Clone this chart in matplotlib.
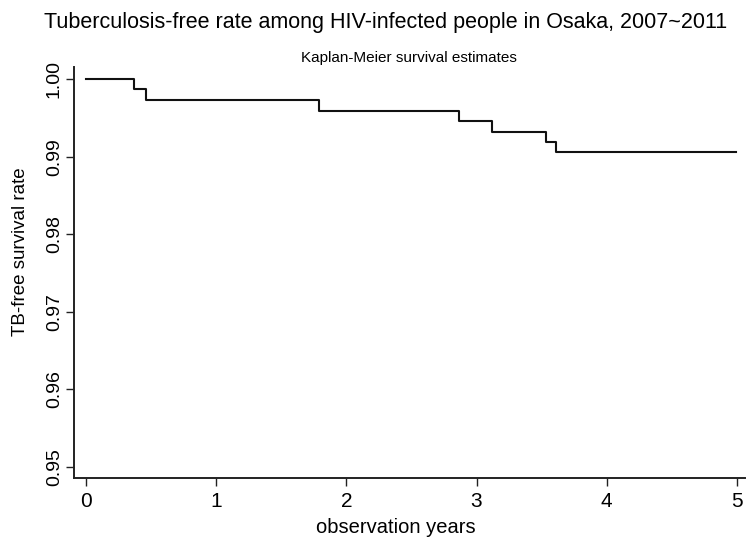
#!/usr/bin/env python3
import numpy as np
import matplotlib
matplotlib.use('Agg')
import matplotlib.pyplot as plt

plt.rcParams['font.family'] = ['Liberation Sans', 'DejaVu Sans']

# Kaplan-Meier step points (time in years, TB-free survival)
event_years = [0.0, 0.37, 0.46, 1.79, 2.865, 3.12, 3.53, 3.61, 4.99]
survival = [1.0, 0.99871, 0.99733, 0.99588, 0.99459, 0.99317, 0.99188, 0.99059, 0.99059]

x_ticks = [0, 1, 2, 3, 4, 5]
y_ticks = [0.95, 0.96, 0.97, 0.98, 0.99, 1.00]

fig = plt.figure(figsize=(7.56, 5.42), dpi=100)
ax = fig.add_axes([0.098, 0.118, 0.887, 0.758])

ax.step(event_years, survival, where='post', color='#111111', linewidth=1.5)

ax.set_xlim(-0.092, 5.06)
ax.set_ylim(0.94858, 1.00155)
ax.set_xticks(x_ticks)
ax.set_yticks(y_ticks)
ax.set_yticklabels([f'{v:.2f}' for v in y_ticks], rotation=90, va='center')
ax.tick_params(axis='both', direction='out', length=6, width=1, color='#222222')
ax.tick_params(axis='x', labelsize=15, pad=4)
ax.tick_params(axis='y', labelsize=14, pad=2)

for side in ['top', 'right']:
    ax.spines[side].set_visible(False)
for side in ['left', 'bottom']:
    ax.spines[side].set_linewidth(1.4)
    ax.spines[side].set_color('#222222')

ax.set_xlabel('observation years', fontsize=14.5)
ax.xaxis.set_label_coords(0.48, -0.097)
ax.set_ylabel('TB-free survival rate', fontsize=13.5)
ax.yaxis.set_label_coords(-0.067, 0.55)

fig.text(0.51, 0.958, 'Tuberculosis-free rate among HIV-infected people in Osaka, 2007~2011',
         ha='center', va='center', fontsize=15.5)
ax.set_title('Kaplan-Meier survival estimates', fontsize=11, pad=4)

fig.savefig('out.png', dpi=100)
